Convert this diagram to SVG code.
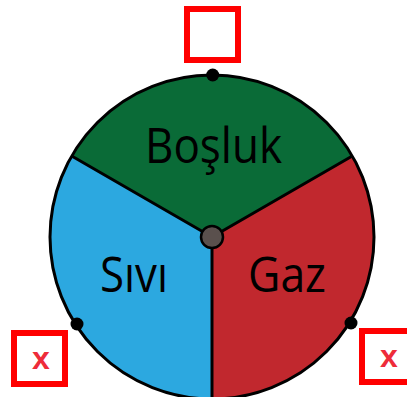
<svg xmlns="http://www.w3.org/2000/svg" width="407" height="397" viewBox="0 0 407 397">
<style>
.box{fill:#fff;stroke:#ff0000;stroke-width:6}
.lbl{font-family:"Open Sans","Liberation Sans",sans-serif;font-size:49px;fill:#000;text-anchor:middle}
.x{font-family:"Liberation Sans",Arial,sans-serif;font-weight:bold;font-size:32px;fill:#ee2c3a;text-anchor:middle}
.dot{fill:#000}
.edge{stroke:#000;stroke-width:3;fill:none}
</style>
<rect width="407" height="397" fill="#fff"/>
<g id="wheel">
<g id="bosluk">
<path d="M212 237 L71.7 156 A162 162 0 0 1 352.3 156 Z" fill="#0a6b37"/>
<text class="lbl" x="213.5" y="163" textLength="137" lengthAdjust="spacingAndGlyphs">Boşluk</text>
</g>
<g id="sivi">
<path d="M212 237 L212 399 A162 162 0 0 1 71.7 156 Z" fill="#2ca8e0"/>
<text class="lbl" x="134" y="292" textLength="68" lengthAdjust="spacingAndGlyphs">Sıvı</text>
</g>
<g id="gaz">
<path d="M212 237 L352.3 156 A162 162 0 0 1 212 399 Z" fill="#c1282e"/>
<text class="lbl" x="287" y="292" textLength="78" lengthAdjust="spacingAndGlyphs">Gaz</text>
</g>
</g>
<g id="connectors">
<circle class="edge" cx="212" cy="237" r="162"/>
<path class="edge" d="M212 237 L71.7 156 M212 237 L352.3 156 M212 237 L212 399"/>
</g>
<g id="center"><circle cx="212" cy="237" r="11" fill="#5a504d" stroke="#000" stroke-width="2.5"/></g>
<g id="dot-top"><circle class="dot" cx="212.7" cy="75" r="6.5"/></g>
<g id="dot-left"><circle class="dot" cx="77" cy="324" r="6.5"/></g>
<g id="dot-right"><circle class="dot" cx="351" cy="323" r="6.5"/></g>
<g id="box-top"><rect class="box" x="187" y="9" width="51" height="51"/></g>
<g id="box-left"><rect class="box" x="14" y="333" width="51" height="51"/><text class="x" x="41" y="369">x</text></g>
<g id="box-right"><rect class="box" x="362" y="331" width="51" height="51"/><text class="x" x="389" y="367">x</text></g>
</svg>
